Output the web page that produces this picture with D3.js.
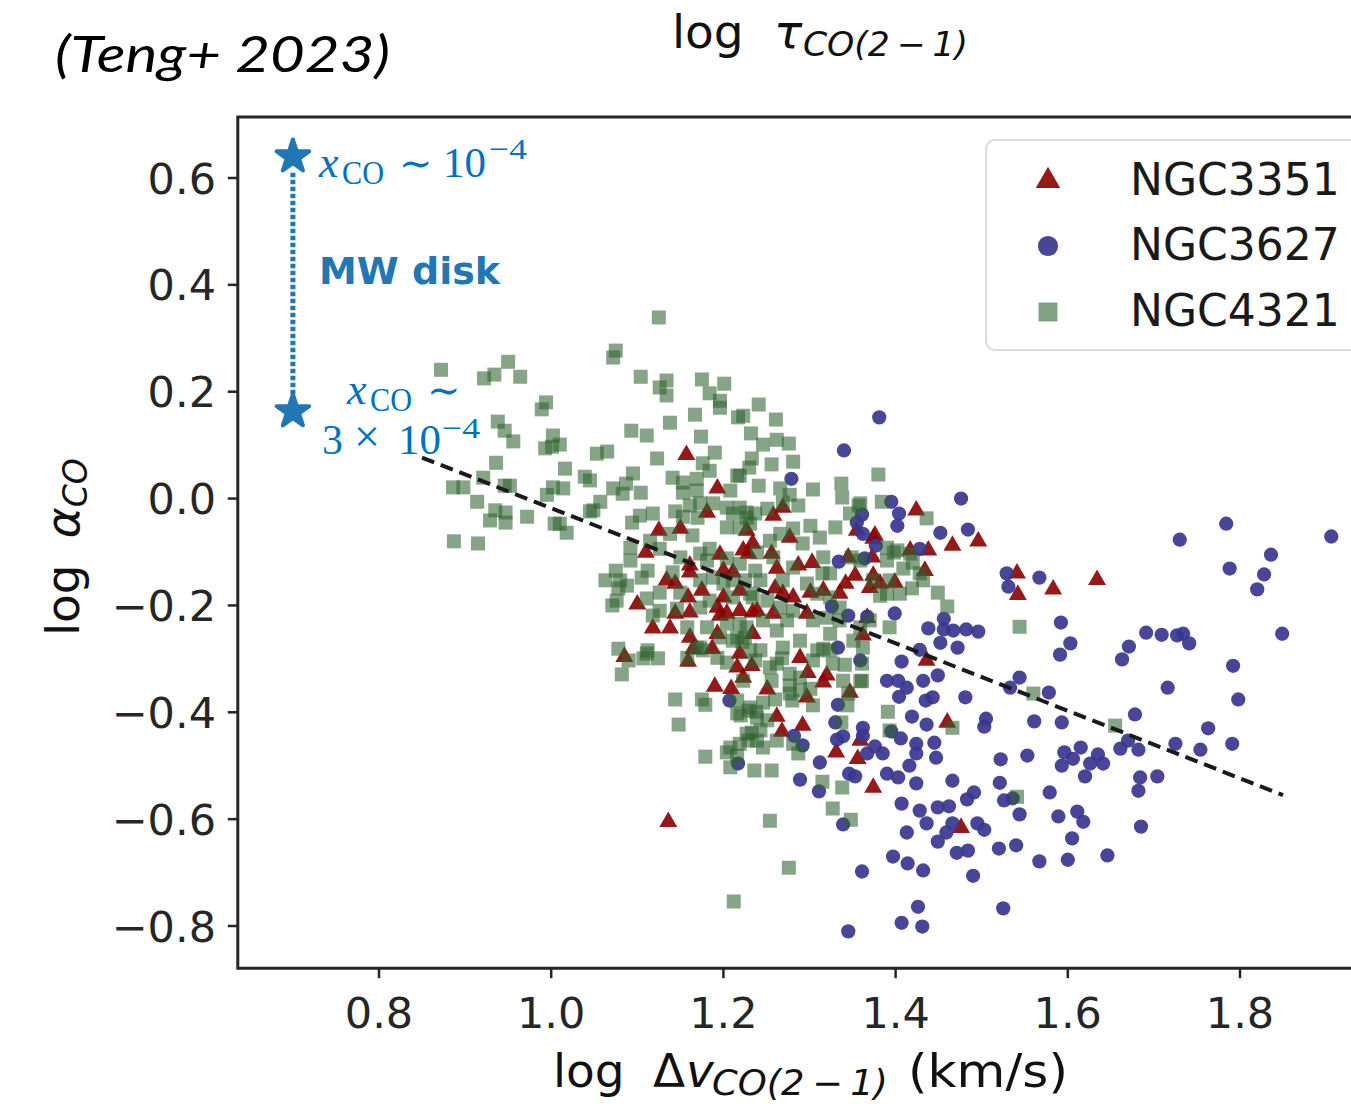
<!DOCTYPE html>
<html>
<head>
<meta charset="utf-8">
<script src="https://cdn.jsdelivr.net/npm/d3@7"></script>
<style>
  body { margin: 0; background: #fff; }
  svg { display: block; }
</style>
</head>
<body>
<svg id="chart" width="1351" height="1107"></svg>
<script>
// axis ticks and limits
const xTicks = [0.8, 1.0, 1.2, 1.4, 1.6, 1.8];
const yTicks = [0.6, 0.4, 0.2, 0.0, -0.2, -0.4, -0.6, -0.8];
const xLim = [0.636, 1.96];
const yLim = [-0.879, 0.714];

// best fit line: log aCO = fitA + fitB * log dv
const fitRange = [0.85, 1.85];
const fitA = 0.614;
const fitB = -0.632;

// MW disk reference (xCO ~ 1e-4 and 3e-4)
const mwStars = [[0.70, 0.640], [0.70, 0.163]];

const galaxies = ["NGC3351", "NGC3627", "NGC4321"];

// [log dv, log aCO]
const ngc3351 = [
  [1.157,0.082],[1.193,0.019],[1.181,-0.026],[1.125,-0.060],[1.150,-0.056],[1.110,-0.101],[1.161,-0.125],[1.161,-0.138],
  [1.196,-0.105],[1.227,-0.060],[1.234,-0.084],[1.229,-0.103],[1.134,-0.153],[1.144,-0.159],[1.200,-0.135],[1.211,-0.138],
  [1.175,-0.172],[1.200,-0.185],[1.219,-0.172],[1.100,-0.198],[1.159,-0.185],[1.161,-0.213],[1.144,-0.215],[1.193,-0.204],
  [1.196,-0.219],[1.204,-0.215],[1.219,-0.210],[1.234,-0.213],[1.118,-0.243],[1.138,-0.243],[1.161,-0.260],[1.193,-0.253],
  [1.187,-0.281],[1.165,-0.281],[1.085,-0.296],[1.219,-0.290],[1.234,-0.253],[1.159,-0.305],[1.216,-0.316],[1.223,-0.335],
  [1.233,-0.313],[1.190,-0.352],[1.209,-0.356],[1.251,-0.357],[1.262,-0.408],[1.292,-0.425],[1.268,-0.436],[1.298,-0.326],
  [1.289,-0.298],[1.320,-0.331],[1.316,-0.344],[1.347,-0.363],[1.297,-0.372],[1.331,-0.475],[1.359,-0.453],[1.356,-0.487],
  [1.374,-0.541],[1.136,-0.605],[1.476,-0.616],[1.460,-0.419],[1.436,-0.303],[1.424,-0.022],[1.438,-0.097],[1.466,-0.088],
  [1.496,-0.080],[1.541,-0.140],[1.542,-0.180],[1.583,-0.170],[1.634,-0.152],[1.417,-0.097],[1.434,-0.135],[1.399,-0.157],
  [1.374,-0.075],[1.373,-0.110],[1.374,-0.144],[1.382,-0.159],[1.370,-0.167],[1.367,-0.223],[1.362,-0.256],[1.353,-0.144],
  [1.342,-0.159],[1.335,-0.178],[1.355,-0.060],[1.376,-0.069],[1.345,-0.110],[1.258,-0.032],[1.269,-0.017],[1.256,-0.103],
  [1.223,-0.097],[1.277,-0.073],[1.262,-0.131],[1.287,-0.125],[1.303,-0.120],[1.281,-0.185],[1.301,-0.176],[1.316,-0.172],
  [1.260,-0.168],[1.239,-0.210],[1.258,-0.215],[1.297,-0.215],[1.269,-0.178]
];

const ngc3627 = [
  [1.381,0.152],[1.340,0.090],[1.279,0.037],[1.476,0.000],[1.395,-0.006],[1.404,-0.028],[1.361,-0.030],[1.355,-0.045],
  [1.362,-0.066],[1.402,-0.051],[1.452,-0.064],[1.484,-0.058],[1.377,-0.088],[1.428,-0.094],[1.334,-0.118],[1.364,-0.112],
  [1.326,-0.202],[1.345,-0.219],[1.367,-0.221],[1.399,-0.215],[1.456,-0.225],[1.529,-0.140],[1.531,-0.165],[1.567,-0.148],
  [1.592,-0.232],[1.603,-0.271],[1.591,-0.292],[1.438,-0.243],[1.456,-0.245],[1.467,-0.247],[1.482,-0.245],[1.496,-0.249],
  [1.452,-0.270],[1.472,-0.279],[1.428,-0.283],[1.407,-0.305],[1.359,-0.303],[1.449,-0.331],[1.544,-0.335],[1.390,-0.341],
  [1.403,-0.341],[1.432,-0.341],[1.784,-0.047],[1.730,-0.077],[1.906,-0.071],[1.836,-0.105],[1.788,-0.131],[1.828,-0.142],
  [1.820,-0.170],[1.691,-0.251],[1.709,-0.255],[1.727,-0.256],[1.734,-0.253],[1.741,-0.271],[1.671,-0.277],[1.663,-0.301],
  [1.849,-0.253],[1.792,-0.313],[1.716,-0.354],[1.798,-0.376],[1.678,-0.404],[1.763,-0.430],[1.670,-0.453],[1.725,-0.459],
  [1.791,-0.459],[1.661,-0.468],[1.682,-0.470],[1.754,-0.470],[1.413,-0.354],[1.404,-0.371],[1.443,-0.372],[1.435,-0.378],
  [1.481,-0.372],[1.533,-0.354],[1.578,-0.363],[1.419,-0.408],[1.436,-0.423],[1.395,-0.436],[1.505,-0.412],[1.503,-0.427],
  [1.561,-0.417],[1.593,-0.419],[1.362,-0.429],[1.406,-0.449],[1.424,-0.459],[1.445,-0.457],[1.376,-0.464],[1.367,-0.477],
  [1.385,-0.477],[1.424,-0.477],[1.447,-0.485],[1.416,-0.500],[1.522,-0.488],[1.553,-0.481],[1.596,-0.475],[1.615,-0.466],
  [1.606,-0.487],[1.593,-0.500],[1.635,-0.479],[1.626,-0.496],[1.641,-0.496],[1.620,-0.520],[1.390,-0.515],[1.403,-0.522],
  [1.424,-0.533],[1.466,-0.528],[1.521,-0.532],[1.491,-0.550],[1.483,-0.563],[1.526,-0.565],[1.536,-0.561],[1.579,-0.550],
  [1.407,-0.571],[1.449,-0.578],[1.462,-0.576],[1.428,-0.584],[1.544,-0.591],[1.589,-0.595],[1.611,-0.586],[1.618,-0.605],
  [1.436,-0.608],[1.466,-0.608],[1.495,-0.608],[1.503,-0.620],[1.413,-0.625],[1.459,-0.625],[1.449,-0.642],[1.605,-0.636],
  [1.520,-0.655],[1.540,-0.649],[1.471,-0.663],[1.484,-0.659],[1.397,-0.670],[1.414,-0.683],[1.432,-0.696],[1.361,-0.698],
  [1.567,-0.679],[1.600,-0.676],[1.646,-0.668],[1.490,-0.706],[1.426,-0.764],[1.525,-0.767],[1.407,-0.794],[1.431,-0.801],
  [1.345,-0.810],[1.207,-0.378],[1.217,-0.496],[1.282,-0.444],[1.292,-0.462],[1.312,-0.494],[1.289,-0.526],[1.311,-0.548],
  [1.333,-0.386],[1.330,-0.419],[1.332,-0.451],[1.339,-0.445],[1.362,-0.444],[1.346,-0.515],[1.353,-0.520],[1.339,-0.610],
  [1.333,-0.279],[1.684,-0.522],[1.704,-0.520],[1.682,-0.547],[1.685,-0.614]
];

const ngc4321 = [
  [0.872,0.241],[0.922,0.225],[0.934,0.232],[0.950,0.256],[0.964,0.228],[1.125,0.339],[1.075,0.277],[1.072,0.264],
  [1.104,0.228],[1.134,0.221],[1.126,0.208],[1.134,0.193],[1.175,0.223],[1.201,0.215],[1.184,0.197],[1.196,0.183],
  [1.196,0.170],[1.217,0.152],[1.167,0.157],[1.138,0.142],[1.093,0.127],[1.111,0.118],[1.174,0.116],[1.190,0.086],
  [1.123,0.075],[1.176,0.066],[1.184,0.052],[1.141,0.039],[1.153,0.030],[1.169,0.037],[1.169,0.015],[1.153,0.011],
  [1.216,0.043],[1.208,0.015],[1.095,0.047],[1.087,0.028],[1.083,0.009],[1.072,0.019],[1.104,0.011],[1.057,-0.006],
  [1.045,-0.024],[1.103,-0.032],[1.118,-0.028],[1.094,-0.045],[1.144,-0.024],[1.153,-0.034],[1.170,-0.036],[1.204,-0.017],
  [1.211,-0.028],[0.938,0.144],[0.946,0.127],[0.956,0.107],[0.936,0.067],[0.921,0.039],[0.886,0.021],[0.898,0.021],
  [0.914,-0.006],[0.946,0.024],[0.952,0.024],[0.935,-0.022],[0.929,-0.041],[0.947,-0.026],[0.947,-0.045],[0.972,-0.034],
  [0.994,0.180],[0.989,0.167],[1.002,0.118],[1.010,0.101],[0.993,0.094],[1.001,0.097],[1.016,0.056],[1.039,0.041],
  [1.045,0.034],[1.053,0.084],[1.065,0.088],[0.995,0.007],[1.002,0.021],[1.014,0.019],[1.004,-0.047],[0.887,-0.080],
  [0.915,-0.084],[1.241,0.176],[1.223,0.155],[1.261,0.148],[1.232,0.122],[1.246,0.101],[1.262,0.110],[1.276,0.103],
  [1.233,0.075],[1.230,0.058],[1.256,0.064],[1.281,0.069],[1.219,0.043],[1.241,0.024],[1.266,0.019],[1.277,0.007],
  [1.304,0.017],[1.287,-0.013],[1.227,-0.026],[1.251,-0.019],[1.269,-0.007],[1.380,0.045],[1.337,0.028],[1.338,0.002],
  [1.357,-0.013],[1.347,-0.028],[1.301,-0.051],[1.330,-0.054],[1.312,-0.073],[1.281,-0.056],[1.266,-0.066],[1.436,-0.037],
  [1.384,-0.006],[1.390,-0.092],[1.398,-0.101],[1.417,-0.103],[1.428,-0.140],[1.449,-0.176],[1.460,-0.202],[1.419,-0.168],
  [1.405,-0.178],[1.390,-0.178],[1.316,-0.110],[1.315,-0.140],[1.324,-0.140],[1.374,-0.153],[1.393,-0.153],[1.349,-0.110],
  [1.292,-0.084],[1.254,-0.079],[1.239,-0.101],[1.258,-0.110],[1.281,-0.129],[1.269,-0.153],[1.297,-0.159],[1.309,-0.178],
  [1.324,-0.185],[1.335,-0.204],[1.243,-0.153],[1.231,-0.178],[1.251,-0.191],[1.266,-0.204],[1.281,-0.210],[1.359,-0.009],
  [1.402,-0.097],[1.390,-0.116],[1.409,-0.131],[1.420,-0.120],[1.432,-0.153],[1.359,-0.116],[1.382,-0.182],[1.393,-0.241],
  [1.544,-0.240],[1.362,-0.279],[1.361,-0.341],[1.391,-0.399],[1.393,-0.434],[1.466,-0.429],[1.560,-0.365],[1.541,-0.558],
  [1.655,-0.425],[1.082,-0.329],[1.144,-0.376],[1.175,-0.376],[1.179,-0.386],[1.148,-0.423],[1.179,-0.483],[1.204,-0.475],
  [1.208,-0.466],[1.216,-0.481],[1.236,-0.509],[1.256,-0.509],[1.254,-0.603],[1.276,-0.691],[1.315,-0.530],[1.338,-0.541],
  [1.327,-0.580],[1.348,-0.601],[1.341,-0.311],[1.339,-0.341],[1.359,-0.342],[1.345,-0.365],[1.304,-0.387],[1.337,-0.419],
  [1.220,-0.406],[1.229,-0.397],[1.238,-0.399],[1.246,-0.382],[1.260,-0.376],[1.277,-0.365],[1.277,-0.350],[1.289,-0.359],
  [1.262,-0.309],[1.268,-0.299],[1.204,-0.307],[1.107,-0.299],[1.124,-0.299],[1.112,-0.284],[1.243,-0.284],[1.233,-0.438],
  [1.243,-0.434],[1.229,-0.453],[1.281,-0.459],[1.287,-0.477],[1.208,-0.503],[1.169,-0.279],[1.176,-0.284],[1.222,-0.268],
  [1.304,-0.303],[1.316,-0.281],[1.277,-0.328],[1.212,-0.754],[1.049,-0.022],[1.161,-0.013],[1.173,-0.009],[1.138,-0.066],
  [1.164,-0.069],[1.188,-0.009],[1.219,-0.017],[1.227,-0.036],[1.204,-0.054],[1.219,-0.054],[1.231,-0.047],[1.237,-0.028],
  [1.018,-0.064],[1.010,-0.047],[1.092,-0.092],[1.092,-0.116],[1.112,-0.135],[1.105,-0.148],[1.078,-0.168],[1.088,-0.163],
  [1.076,-0.191],[1.111,-0.187],[1.126,-0.176],[1.150,-0.176],[1.141,-0.138],[1.150,-0.110],[1.173,-0.103],[1.184,-0.094],
  [1.181,-0.116],[1.204,-0.112],[1.219,-0.122],[1.188,-0.148],[1.200,-0.159],[1.173,-0.153],[1.211,-0.153],[1.225,-0.153],
  [1.237,-0.135],[1.234,-0.185],[1.211,-0.185],[1.126,-0.210],[1.118,-0.219],[1.146,-0.206],[1.173,-0.204],[1.184,-0.191],
  [1.158,-0.241],[1.181,-0.241],[1.204,-0.234],[1.219,-0.234],[1.227,-0.241],[1.196,-0.260],[1.211,-0.266],[1.225,-0.260],
  [1.111,-0.290],[1.158,-0.298],[1.173,-0.279],[1.193,-0.298],[1.080,-0.153],[1.361,-0.309],[1.327,-0.309],[1.324,-0.284],
  [1.309,-0.284],[1.289,-0.335],[1.301,-0.356],[1.344,-0.387],[1.280,-0.378],[1.256,-0.341],[1.254,-0.316],[1.237,-0.303],
  [1.223,-0.341],[1.216,-0.378],[1.231,-0.391],[1.239,-0.410],[1.251,-0.415],[1.216,-0.402],[1.227,-0.440],[1.239,-0.453],
  [1.262,-0.453],[1.246,-0.466],[1.219,-0.459],[1.351,-0.266],[1.359,-0.241],[1.370,-0.228],[1.335,-0.228],[1.320,-0.223],
  [1.304,-0.228],[1.324,-0.253],[1.289,-0.266],[1.269,-0.279],[1.262,-0.247],[1.246,-0.228],[1.274,-0.228],[1.231,-0.284],
  [1.216,-0.260],[1.115,-0.079],[1.126,-0.094],[1.075,-0.135],[1.063,-0.153],[1.071,-0.200],[1.078,-0.281],[1.090,-0.303]
];

const svg = d3.select("#chart");

const x = d3.scaleLinear().domain([0.8, 1.8]).range([379, 1240]);
const y = d3.scaleLinear().domain([0.6, -0.8]).range([178, 926]);

const plotL = x(xLim[0]), plotR = x(xLim[1]);
const plotT = y(yLim[1]), plotB = y(yLim[0]);

const axisColor = "#262626";
const tickFont = "'DejaVu Sans', sans-serif";
const serifFont = "'Liberation Serif', 'DejaVu Serif', serif";
const annoBlue = "#0070c0";
const mwBlue = "#1f77b4";

svg.append("defs").append("clipPath").attr("id", "plotClip")
  .append("rect").attr("x", plotL).attr("y", plotT)
  .attr("width", plotR - plotL).attr("height", plotB - plotT);

const plot = svg.append("g").attr("clip-path", "url(#plotClip)");

// Scatter: draw in legend order, green on top
const series = [
  { name: galaxies[0], data: ngc3351, type: d3.symbolTriangle, size: 140, fill: "#8b0000", op: 0.9, lsize: 260 },
  { name: galaxies[1], data: ngc3627, type: d3.symbolCircle, size: 160, fill: "#3a3691", op: 0.92, lsize: 320 },
  { name: galaxies[2], data: ngc4321, type: d3.symbolSquare, size: 196, fill: "#2f632f", op: 0.58, lsize: 360 }
];

series.forEach((s) => {
  plot.append("g")
    .selectAll("path")
    .data(s.data)
    .enter()
    .append("path")
    .attr("transform", (d) => `translate(${x(d[0])},${y(d[1])})`)
    .attr("d", d3.symbol().type(s.type).size(s.size))
    .attr("fill", s.fill)
    .attr("fill-opacity", s.op);
});

// fit line
plot.append("line")
  .attr("x1", x(fitRange[0])).attr("y1", y(fitA + fitB * fitRange[0]))
  .attr("x2", x(fitRange[1])).attr("y2", y(fitA + fitB * fitRange[1]))
  .attr("stroke", "#1a1a1a")
  .attr("stroke-width", 4)
  .attr("stroke-dasharray", "13,7");

// MW disk markers
plot.append("line")
  .attr("x1", x(mwStars[0][0])).attr("y1", y(mwStars[0][1]) + 16)
  .attr("x2", x(mwStars[1][0])).attr("y2", y(mwStars[1][1]) - 14)
  .attr("stroke", mwBlue)
  .attr("stroke-width", 5)
  .attr("stroke-dasharray", "4.5,2.5");

plot.selectAll("path.star")
  .data(mwStars)
  .enter()
  .append("path")
  .attr("class", "star")
  .attr("transform", (d) => `translate(${x(d[0])},${y(d[1])})`)
  .attr("d", d3.symbol().type(d3.symbolStar).size(330))
  .attr("fill", mwBlue)
  .attr("stroke", mwBlue)
  .attr("stroke-width", 4)
  .attr("stroke-linejoin", "round");

// annotations
function serifText(px, py, str, size, italic, len) {
  const t = svg.append("text")
    .attr("x", px).attr("y", py)
    .attr("font-family", serifFont)
    .attr("font-size", size)
    .attr("font-style", italic ? "italic" : "normal")
    .attr("fill", annoBlue)
    .text(str);
  if (len) t.attr("textLength", len).attr("lengthAdjust", "spacingAndGlyphs");
  return t;
}
serifText(319, 177, "x", 44, true);
serifText(342, 184, "CO", 33, false, 42);
serifText(399, 177, "\u223c", 40, false);
serifText(443, 177, "10", 42, false, 43);
serifText(489, 159, "\u22124", 30, false, 38);

serifText(347, 404, "x", 44, true);
serifText(370, 411, "CO", 33, false, 42);
serifText(427, 404, "\u223c", 40, false);
serifText(322, 454, "3", 42, false);
serifText(367, 452, "\u00d7", 46, false).attr("text-anchor", "middle");
serifText(398, 454, "10", 42, false, 43);
serifText(442, 438, "\u22124", 30, false, 38);

svg.append("text")
  .attr("x", 319).attr("y", 284)
  .attr("font-family", "'DejaVu Sans', sans-serif")
  .attr("font-weight", "bold")
  .attr("font-size", 38)
  .attr("fill", mwBlue)
  .text("MW disk");

// frame
svg.append("path")
  .attr("d", `M${plotR},${plotT}H${plotL}V${plotB}H${plotR}`)
  .attr("stroke", axisColor)
  .attr("stroke-width", 3)
  .attr("fill", "none");

// ticks
svg.append("g").selectAll("line")
  .data(xTicks).enter().append("line")
  .attr("x1", (d) => x(d)).attr("x2", (d) => x(d))
  .attr("y1", plotB).attr("y2", plotB + 10)
  .attr("stroke", axisColor).attr("stroke-width", 2.5);

svg.append("g").selectAll("text")
  .data(xTicks).enter().append("text")
  .attr("x", (d) => x(d)).attr("y", 1028)
  .attr("text-anchor", "middle")
  .attr("font-family", tickFont).attr("font-size", 43)
  .attr("fill", axisColor)
  .text((d) => d.toFixed(1));

svg.append("g").selectAll("line")
  .data(yTicks).enter().append("line")
  .attr("x1", plotL - 10).attr("x2", plotL)
  .attr("y1", (d) => y(d)).attr("y2", (d) => y(d))
  .attr("stroke", axisColor).attr("stroke-width", 2.5);

svg.append("g").selectAll("text")
  .data(yTicks).enter().append("text")
  .attr("x", 216).attr("y", (d) => y(d) + 15.5)
  .attr("text-anchor", "end")
  .attr("font-family", tickFont).attr("font-size", 43)
  .attr("fill", axisColor)
  .text((d) => (d < 0 ? "\u2212" + Math.abs(d).toFixed(1) : d.toFixed(1)));

// legend
const legend = svg.append("g");
legend.append("rect")
  .attr("x", 986).attr("y", 140)
  .attr("width", 420).attr("height", 210)
  .attr("rx", 9)
  .attr("fill", "#fff").attr("fill-opacity", 0.85)
  .attr("stroke", "#dadada").attr("stroke-width", 2);

const legendY = [181, 246, 312];
series.forEach((s, i) => {
  legend.append("path")
    .attr("transform", `translate(1048,${legendY[i]})`)
    .attr("d", d3.symbol().type(s.type).size(s.lsize))
    .attr("fill", s.fill)
    .attr("fill-opacity", Math.max(s.op, 0.6));
  legend.append("text")
    .attr("x", 1130).attr("y", legendY[i] + 14)
    .attr("font-family", tickFont).attr("font-size", 44)
    .attr("fill", "#1a1a1a")
    .text(s.name);
});

// axis labels and titles
const labelFont = "'DejaVu Sans', sans-serif";
function labelText(px, py, str, opts = {}) {
  const t = svg.append("text")
    .attr("x", px).attr("y", py)
    .attr("font-family", labelFont)
    .attr("font-size", opts.size || 47)
    .attr("font-style", opts.italic ? "italic" : "normal")
    .attr("fill", "#111")
    .text(str);
  if (opts.len) t.attr("textLength", opts.len).attr("lengthAdjust", "spacingAndGlyphs");
  return t;
}

// x label
labelText(553, 1087, "log");
labelText(653, 1087, "\u0394");
labelText(686, 1087, "v", { italic: true });
labelText(712, 1095, "CO(2\u2009\u2212\u20091)", { italic: true, size: 35, len: 176 });
labelText(908, 1087, "(km/s)", { len: 160 });

// title
labelText(672, 48, "log");
labelText(774, 48, "\u03c4", { italic: true });
labelText(803, 56, "CO(2\u2009\u2212\u20091)", { italic: true, size: 34, len: 165 });

// y label
const yl = svg.append("text")
  .attr("transform", "translate(79,636) rotate(-90)")
  .attr("font-family", labelFont).attr("font-size", 47)
  .attr("fill", "#111");
yl.append("tspan").text("log");
yl.append("tspan").attr("dx", 26).attr("font-style", "italic").text("\u03b1");
yl.append("tspan").attr("font-style", "italic").attr("font-size", 33).attr("dy", 8).text("CO");

svg.append("text")
  .attr("x", 55).attr("y", 72)
  .attr("font-family", "Lato, 'Open Sans', sans-serif")
  .attr("font-style", "italic")
  .attr("font-size", 50)
  .attr("textLength", 335)
  .attr("lengthAdjust", "spacingAndGlyphs")
  .attr("fill", "#000")
  .text("(Teng+ 2023)");
</script>
</body>
</html>
